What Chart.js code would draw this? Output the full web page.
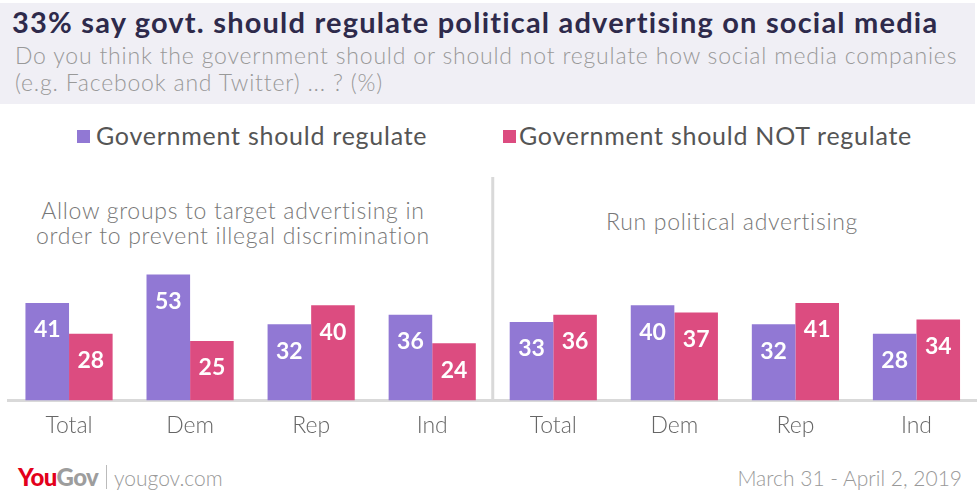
<!DOCTYPE html>
<html>
<head>
<meta charset="utf-8">
<script src="https://cdn.jsdelivr.net/npm/chart.js@4"></script>
<style>
  body { margin: 0; background: #fff; font-family: Lato, "Open Sans", sans-serif; }
  #wrap { position: relative; width: 977px; height: 493px; overflow: hidden; }
  #wrap div, #wrap span { position: absolute; white-space: nowrap; }
  .band { top: 3px; left: 0; width: 975px; height: 101px; background: #f0eff5; }
  .title { top: 4px; left: 12px; font-size: 29px; font-weight: 700; letter-spacing: 1.2px; color: #2e2a4b; }
  .sub { top: 42px; left: 15px; font-size: 23px; font-weight: 300; letter-spacing: 0.8px; line-height: 27px; color: #999; }
  .sq { width: 13px; height: 13px; top: 130px; }
  .leg { top: 120px; font-size: 25px; letter-spacing: 0.75px; color: #555; }
  .ptitle { font-size: 23px; font-weight: 300; letter-spacing: 0.7px; color: #777; text-align: center; line-height: 25px; width: 440px; }
  .foot { top: 465px; font-size: 21px; font-weight: 300; color: #999; }
  canvas { position: absolute; top: 0; left: 0; }
</style>
</head>
<body>
<div id="wrap">
  <div class="band"></div>
  <div class="title">33% say govt. should regulate political advertising on social media</div>
  <div class="sub">Do you think the government should or should not regulate how social media companies<br>(e.g. Facebook and Twitter) ... ? (%)</div>

  <div class="sq" style="left:77px;background:#9178d4"></div>
  <div class="leg" style="left:96px">Government should regulate</div>
  <div class="sq" style="left:503px;background:#dc4c80"></div>
  <div class="leg" style="left:519px">Government should NOT regulate</div>

  <div class="ptitle" style="left:13px;top:198px">Allow groups to target advertising in<br>order to prevent illegal discrimination</div>
  <div class="ptitle" style="left:512px;top:209px">Run political advertising</div>

  <div style="left:18px;top:462px;font-size:24px;font-weight:900;letter-spacing:-0.6px"><span style="position:static;color:#e3001b">You</span><span style="position:static;color:#9d9d9d">Gov</span></div>
  <div style="left:106px;top:465px;width:1px;height:24px;background:#bbb"></div>
  <div class="foot" style="left:114px">yougov.com</div>
  <div class="foot" style="right:15px">March 31 - April 2, 2019</div>

  <canvas id="chart" width="977" height="493"></canvas>
</div>
<script>
const groups = ['Total', 'Dem', 'Rep', 'Ind'];
// Allow groups to target advertising in order to prevent illegal discrimination
const targetRegulate = [41, 53, 32, 36];
const targetNotRegulate = [28, 25, 40, 24];
// Run political advertising
const runRegulate = [33, 40, 32, 28];
const runNotRegulate = [36, 37, 41, 34];

const purple = '#9178d4';
const pink = '#dc4c80';

const labels = groups.concat(groups);

const valueLabels = {
    id: 'valueLabels',
    afterDatasetsDraw(chart) {
        const ctx = chart.ctx;
        ctx.save();
        ctx.fillStyle = '#fff';
        ctx.font = 'bold 23px Lato, sans-serif';
        ctx.textAlign = 'center';
        ctx.textBaseline = 'middle';
        chart.data.datasets.forEach((ds, i) => {
            chart.getDatasetMeta(i).data.forEach((bar, j) => {
                ctx.fillText(ds.data[j], bar.x, bar.y + 27);
            });
        });
        ctx.restore();
    }
};

const divider = {
    id: 'divider',
    beforeDatasetsDraw(chart) {
        const x = chart.scales.x;
        const mid = (x.getPixelForValue(3) + x.getPixelForValue(4)) / 2;
        const ctx = chart.ctx;
        ctx.save();
        ctx.strokeStyle = '#d9d9d9';
        ctx.lineWidth = 3;
        ctx.beginPath();
        ctx.moveTo(mid, chart.chartArea.top);
        ctx.lineTo(mid, chart.chartArea.bottom);
        ctx.stroke();
        ctx.restore();
    }
};

new Chart(document.getElementById('chart'), {
    type: 'bar',
    data: {
        labels: labels,
        datasets: [{
            label: 'Government should regulate',
            data: targetRegulate.concat(runRegulate),
            backgroundColor: purple
        }, {
            label: 'Government should NOT regulate',
            data: targetNotRegulate.concat(runNotRegulate),
            backgroundColor: pink
        }]
    },
    options: {
        responsive: false,
        animation: false,
        categoryPercentage: 0.72,
        barPercentage: 1,
        layout: { padding: { left: 8.5, right: 0, top: 177, bottom: 51 } },
        plugins: { legend: { display: false }, tooltip: { enabled: false } },
        scales: {
            x: {
                grid: { display: false },
                border: { display: true, color: '#d9d9d9', width: 3 },
                ticks: { color: '#666', font: { family: 'Lato', size: 23, weight: 300 }, padding: 3 }
            },
            y: {
                display: false,
                min: 0,
                max: 94
            }
        }
    },
    plugins: [valueLabels, divider]
});
</script>
</body>
</html>
